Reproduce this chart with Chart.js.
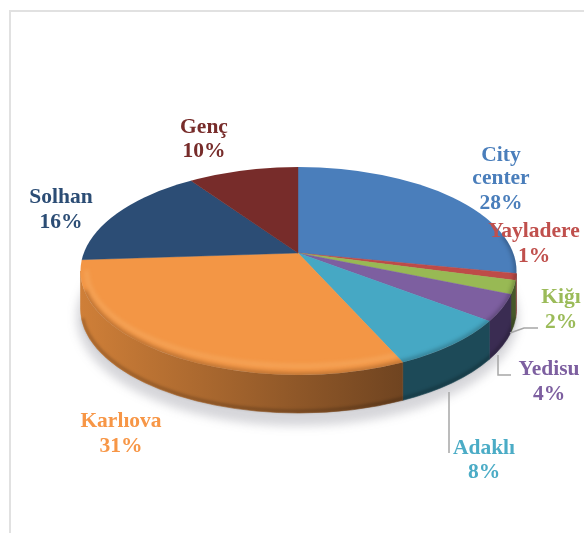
<!DOCTYPE html>
<html><head><meta charset="utf-8">
<style>html,body{margin:0;padding:0;background:#fff}#w{position:absolute;left:0;top:0;width:584px;height:533px}</style>
<script src="https://cdn.jsdelivr.net/npm/chart.js@4"></script></head>
<body><div id="w"><canvas id="c" width="584" height="533"></canvas></div>
<script>
const categories=["City center","Yayladere","Kiğı","Yedisu","Adaklı","Karlıova","Solhan","Genç"];
const shares=[28,1,2,4,8,31,16,10];
const topColors=["#4a7ebb","#be4b48","#98b954","#7d5fa0","#46a8c4","#f39645","#2c4d75","#772c2a"];
const wallLeft=["#34588a","#8a3432","#5e7830","#4a3866","#1f5a6c","#cf7f38","#1e3654","#521e1c"];
const wallRight=["#2e4e7a","#7a2e2c","#46582a","#3a2c52","#1d4a58","#6e4320","#1e3654","#521e1c"];
const labelColors=["#4a7ebb","#c0504d","#9bbb59","#7d5fa0","#4bacc6","#f79646","#2c4d75","#772c2a"];

const apex={x:298,y:253}, E={x:298.5,y:271,rx:218,ry:104}, depth=38, sx=1.1, sy=0.54;
const labelLayout=[
 {x:501,y:[155,178,203],lines:["City","center"]},
 {x:534,y:[231,256]},
 {x:561,y:[297,322]},
 {x:549,y:[369,394]},
 {x:484,y:[448,472]},
 {x:121,y:[421,446]},
 {x:61,y:[197,222]},
 {x:204,y:[127,151]}
];
const leaders=[[[510,333],[524,328],[538,328]],[[498,355],[498,375],[511,375]],[[449,392],[449,453]]];

function ellipsePath(ctx,dy){ctx.beginPath();ctx.ellipse(E.x,E.y+dy,E.rx,E.ry,0,0,Math.PI*2);}
function rimParam(a){
  const dx=sx*Math.cos(a),dy=sy*Math.sin(a);
  const ox=(apex.x-E.x)/E.rx,oy=(apex.y-E.y)/E.ry,ux=dx/E.rx,uy=dy/E.ry;
  const A=ux*ux+uy*uy,B=2*(ox*ux+oy*uy),C=ox*ox+oy*oy-1;
  const s=(-B+Math.sqrt(B*B-4*A*C))/(2*A);
  let t=Math.atan2(oy+uy*s,ox+ux*s);
  if(t<-Math.PI/2)t+=Math.PI*2;
  return t;
}
const pie3d={id:'pie3d',
  beforeDatasetsDraw(chart){
    const ctx=chart.ctx, arcs=chart.getDatasetMeta(0).data;
    ctx.save();
    ctx.filter='blur(5px)';ctx.fillStyle='rgba(70,70,85,0.22)';
    ctx.beginPath();ctx.ellipse(E.x-1,E.y+depth+8,E.rx+3,E.ry+5,0,0,Math.PI*2);ctx.fill();
    ctx.filter='none';
    arcs.forEach((arc,i)=>{
      let t1=Math.max(rimParam(arc.startAngle),0),t2=Math.min(rimParam(arc.endAngle),Math.PI);
      if(t2<=t1)return;
      const g=ctx.createLinearGradient(E.x-E.rx,0,E.x+E.rx*0.5,0);
      g.addColorStop(0,wallLeft[i]);g.addColorStop(1,wallRight[i]);
      ctx.fillStyle=g;
      ctx.beginPath();
      ctx.ellipse(E.x,E.y,E.rx,E.ry,0,t1,t2);
      ctx.ellipse(E.x,E.y+depth,E.rx,E.ry,0,t2,t1,true);
      ctx.closePath();ctx.fill();
      ctx.strokeStyle=g;ctx.lineWidth=0.6;ctx.stroke();
    });
    ctx.restore();
    ctx.save();
    ellipsePath(ctx,0);ctx.clip();
    ctx.translate(apex.x,apex.y);ctx.scale(sx,sy);ctx.translate(-apex.x,-apex.y);
  },
  afterDatasetsDraw(chart){
    const ctx=chart.ctx, arcs=chart.getDatasetMeta(0).data, big=arcs[shares.indexOf(Math.max(...shares))];
    ctx.restore();
    ctx.save();
    ellipsePath(ctx,0);ctx.clip();
    ctx.filter='blur(2px)';
    ctx.strokeStyle='rgba(255,225,170,0.2)';ctx.lineWidth=4;
    ctx.beginPath();ctx.ellipse(E.x,E.y-1,E.rx-6,E.ry-8,0,rimParam(big.startAngle)+0.02,Math.PI);ctx.stroke();
    ctx.strokeStyle='rgba(0,0,0,0.28)';ctx.lineWidth=4;
    ctx.beginPath();ctx.ellipse(E.x,E.y,E.rx,E.ry,0,-0.35,Math.PI*0.94);ctx.stroke();
    ctx.filter='none';
    ctx.restore();
    ctx.save();
    ctx.filter='blur(1.5px)';ctx.strokeStyle='rgba(0,0,0,0.25)';ctx.lineWidth=2.5;
    ctx.beginPath();ctx.ellipse(E.x,E.y+depth-1,E.rx-1,E.ry-1,0,0.1,Math.PI-0.1);ctx.stroke();
    ctx.filter='none';ctx.restore();
  },
  afterDraw(chart){
    const ctx=chart.ctx;
    ctx.save();
    ctx.fillStyle='#e1e1e1';
    ctx.fillRect(9,10,575,2);ctx.fillRect(9,10,2,523);
    ctx.strokeStyle='#a6a6a6';ctx.lineWidth=1.5;
    leaders.forEach(p=>{ctx.beginPath();p.forEach((q,j)=>j?ctx.lineTo(q[0],q[1]):ctx.moveTo(q[0],q[1]));ctx.stroke();});
    ctx.font='bold 21.5px "Liberation Serif"';ctx.textAlign='center';ctx.textBaseline='middle';
    shares.forEach((v,i)=>{
      const L=labelLayout[i];
      const texts=(L.lines||[categories[i]]).concat([v+'%']);
      ctx.fillStyle=labelColors[i];
      texts.forEach((t,j)=>ctx.fillText(t,L.x,L.y[j]));
    });
    ctx.restore();
  }
};
new Chart(document.getElementById('c'),{
  type:'pie',
  data:{labels:categories,datasets:[{data:shares,backgroundColor:topColors,borderWidth:0.5,borderColor:topColors}]},
  options:{responsive:false,animation:false,rotation:0,
    layout:{padding:{left:12,right:0,top:0,bottom:27}},
    events:[],
    plugins:{legend:{display:false},title:{display:false},tooltip:{enabled:false}}},
  plugins:[pie3d]
});
</script></body></html>
